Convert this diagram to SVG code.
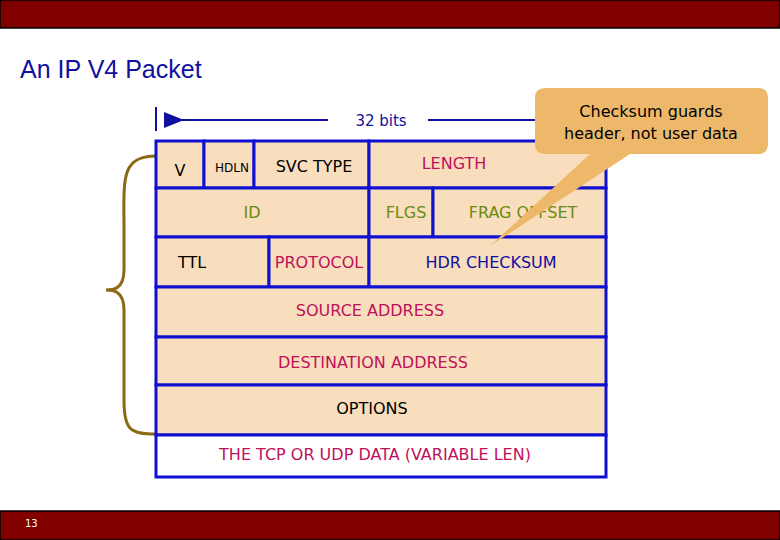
<svg xmlns="http://www.w3.org/2000/svg" width="780" height="540" viewBox="0 0 780 540">
<style>
.c{fill:#F8DEBD;stroke:#1010D0;stroke-width:3}
text{font-family:Verdana,"DejaVu Sans",sans-serif;font-size:16px}
.m{text-anchor:middle}
.k{fill:#000}.r{fill:#C0105A}.g{fill:#6A8A10}.b{fill:#1010A0}
</style>
<defs><marker id="ah" markerWidth="10" markerHeight="8" refX="1" refY="4" orient="auto"><path d="M10,0 L0,4 L10,8 z" fill="#1010A0"/></marker></defs>
<rect x="0" y="0" width="780" height="28" fill="#800000" stroke="#000" stroke-width="1.5"/>
<rect x="0" y="511" width="780" height="29" fill="#800000" stroke="#000" stroke-width="1.5"/>
<text x="25" y="527" style="font-size:10px" fill="#fff">13</text>
<text x="20" y="78" style="font-family:'Liberation Sans',Arial,sans-serif;font-size:25px" fill="#1010A0">An IP V4 Packet</text>
<g id="connectors" stroke="#1010A0" stroke-width="2" fill="none">
<line x1="156" y1="107" x2="156" y2="131"/>
<line x1="328" y1="120" x2="182" y2="120" marker-end="url(#ah)"/>
<line x1="428" y1="120" x2="540" y2="120"/>
</g>
<text x="381" y="126" class="m b" style="font-size:15px">32 bits</text>
<path id="brace" d="M156,156 C120,156 124,180 124,230 L124,270 C124,290 112,290 106,290 C112,290 124,290 124,310 L124,400 C124,430 130,434 156,434" fill="none" stroke="#8B6914" stroke-width="3"/>
<g id="row1">
<rect class="c" x="156" y="141" width="48" height="47"/><text x="180" y="176" class="m k">V</text>
<rect class="c" x="204" y="141" width="50" height="47"/><text x="232" y="172" class="m k" style="font-size:12px">HDLN</text>
<rect class="c" x="254" y="141" width="115" height="47"/><text x="314" y="172" class="m k">SVC TYPE</text>
<rect class="c" x="369" y="141" width="237" height="47"/><text x="454" y="169" class="m r">LENGTH</text>
</g>
<g id="row2">
<rect class="c" x="156" y="188" width="213" height="49"/><text x="252" y="218" class="m g">ID</text>
<rect class="c" x="369" y="188" width="64" height="49"/><text x="406" y="218" class="m g">FLGS</text>
<rect class="c" x="433" y="188" width="173" height="49"/><text x="523" y="218" class="m g">FRAG OFFSET</text>
</g>
<g id="row3">
<rect class="c" x="156" y="237" width="113" height="50"/><text x="192" y="268" class="m k">TTL</text>
<rect class="c" x="269" y="237" width="100" height="50"/><text x="319" y="268" class="m r">PROTOCOL</text>
<rect class="c" x="369" y="237" width="237" height="50"/><text x="491" y="268" class="m b">HDR CHECKSUM</text>
</g>
<g id="src"><rect class="c" x="156" y="287" width="450" height="50"/><text x="370" y="316" class="m r">SOURCE ADDRESS</text></g>
<g id="dst"><rect class="c" x="156" y="337" width="450" height="48"/><text x="373" y="368" class="m r">DESTINATION ADDRESS</text></g>
<g id="opt"><rect class="c" x="156" y="385" width="450" height="50"/><text x="372" y="414" class="m k">OPTIONS</text></g>
<g id="data"><rect x="156" y="435" width="450" height="42" fill="#fff" stroke="#1010D0" stroke-width="3"/><text x="375" y="460" class="m r">THE TCP OR UDP DATA (VARIABLE LEN)</text></g>
<g id="callout">
<path d="M545,88 H758 Q768,88 768,98 V144 Q768,154 758,154 H630 L490,246 L590,154 H545 Q535,154 535,144 V98 Q535,88 545,88 Z" fill="#EEB86A"/>
<text x="651" y="117" class="m k">Checksum guards</text>
<text x="651" y="139" class="m k">header, not user data</text>
</g>
</svg>
